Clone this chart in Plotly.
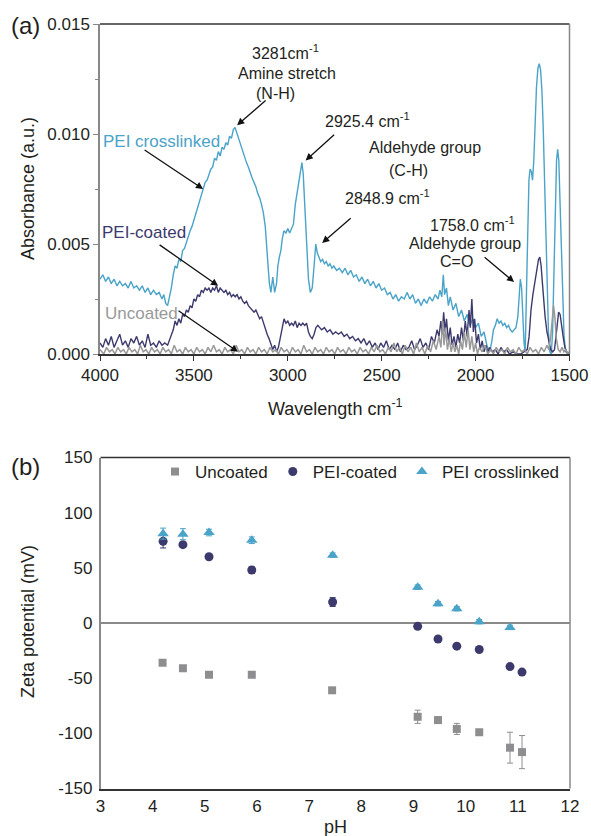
import plotly.graph_objects as go

# ---------------- FTIR spectra (wavenumber cm-1, absorbance a.u.) ----------------
cross_w = [4000,3985,3970,3955,3940,3925,3910,3895,3880,3865,3850,3835,3820,3805,3790,3775,3760,3745,3730,3715,
           3700,3685,3670,3660,3650,3640,3630,3620,3610,3600,3590,3580,3570,3560,3550,3540,3530,3520,3510,3500,
           3490,3480,3470,3460,3450,3440,3430,3420,3410,3400,3390,3380,3370,3360,3350,3340,3330,3320,3310,3300,
           3290,3281,3270,3260,3250,3240,3230,3220,3210,3200,3190,3180,3170,3160,3150,3140,3130,3120,3112,3105,
           3098,3090,3080,3070,3060,3053,3045,3037,3030,3021,3010,3000,2990,2980,2970,2960,2950,2940,2930,2925,
           2918,2910,2904,2897,2890,2880,2870,2860,2851,2843,2835,2825,2815,2805,2795,2785,2775,2765,2755,2740,
           2725,2710,2695,2680,2665,2650,2635,2620,2605,2590,2575,2560,2545,2530,2515,2500,2485,2470,2455,2440,
           2425,2410,2395,2380,2365,2350,2335,2320,2305,2290,2275,2260,2245,2230,2215,2200,2190,2180,2172,2165,
           2155,2145,2135,2120,2105,2090,2075,2060,2045,2030,2015,2000,1985,1970,1955,1940,1925,1915,1905,1895,
           1885,1875,1865,1855,1845,1835,1825,1815,1805,1795,1785,1775,1768,1762,1755,1748,1742,1736,1730,1723,
           1716,1710,1703,1697,1690,1683,1676,1668,1661,1654,1647,1640,1633,1626,1619,1612,1605,1597,1590,1583,
           1576,1569,1563,1557,1550,1543,1536,1529,1520,1510,1500]
cross_a = [0.0034,0.0036,0.0033,0.0035,0.0032,0.0034,0.0031,0.0033,0.0031,0.0032,0.0030,0.0033,0.0030,0.0031,0.0029,0.0031,0.0028,0.0030,0.0027,0.0029,
           0.0027,0.0028,0.0025,0.0027,0.0023,0.0022,0.0026,0.0030,0.0036,0.0040,0.0039,0.0043,0.0042,0.0047,0.0048,0.0051,0.0053,0.0056,0.0058,0.0061,
           0.0063,0.0067,0.0069,0.0073,0.0075,0.0078,0.0079,0.0082,0.0084,0.0085,0.0089,0.0088,0.0092,0.0090,0.0094,0.0093,0.0096,0.0095,0.0099,0.0098,
           0.0102,0.0103,0.0100,0.0098,0.0095,0.0092,0.0090,0.0087,0.0085,0.0082,0.0080,0.0078,0.0076,0.0073,0.0071,0.0068,0.0064,0.0058,0.0050,0.0040,
           0.0032,0.0028,0.0035,0.0028,0.0032,0.0040,0.0044,0.0047,0.0052,0.0056,0.0055,0.0057,0.0055,0.0057,0.0059,0.0068,0.0074,0.0078,0.0085,0.0087,
           0.0082,0.0070,0.0058,0.0045,0.0034,0.0028,0.0030,0.0040,0.0050,0.0046,0.0044,0.0042,0.0043,0.0041,0.0042,0.0040,0.0041,0.0039,0.0040,0.0038,
           0.0039,0.0037,0.0039,0.0036,0.0038,0.0035,0.0036,0.0033,0.0035,0.0032,0.0034,0.0031,0.0033,0.0030,0.0032,0.0029,0.0030,0.0027,0.0028,0.0025,
           0.0027,0.0024,0.0026,0.0025,0.0028,0.0025,0.0027,0.0023,0.0025,0.0022,0.0025,0.0023,0.0026,0.0024,0.0027,0.0025,0.0029,0.0026,0.0036,0.0027,
           0.0030,0.0022,0.0026,0.0020,0.0023,0.0017,0.0020,0.0015,0.0018,0.0013,0.0016,0.0012,0.0014,0.0008,0.0010,0.0004,0.0001,0.0005,0.0011,0.0013,
           0.0016,0.0014,0.0015,0.0013,0.0014,0.0012,0.0013,0.0011,0.0010,0.0011,0.0012,0.0017,0.0027,0.0034,0.0030,0.0016,0.0005,0.0001,0.0020,0.0052,
           0.0079,0.0084,0.0083,0.0079,0.0088,0.0107,0.0121,0.0130,0.0132,0.0129,0.0120,0.0103,0.0080,0.0055,0.0030,0.0010,0.0001,0.0000,0.0010,0.0040,
           0.0070,0.0088,0.0093,0.0088,0.0068,0.0045,0.0022,0.0008,0.0001,0.0000,0.0000]

coat_w = [4000,3985,3970,3955,3940,3925,3910,3895,3880,3865,3850,3835,3820,3805,3790,3775,3760,3745,3730,3715,
          3700,3685,3670,3655,3640,3625,3610,3600,3590,3580,3570,3560,3550,3540,3530,3520,3510,3500,3490,3480,
          3470,3460,3450,3440,3430,3420,3410,3400,3390,3380,3370,3360,3350,3340,3330,3320,3310,3300,3290,3280,
          3270,3260,3250,3240,3230,3220,3210,3200,3190,3180,3170,3160,3150,3140,3130,3120,3110,3100,3090,3080,
          3070,3060,3050,3040,3030,3020,3010,3000,2990,2980,2970,2960,2950,2940,2930,2920,2910,2900,2890,2880,
          2870,2860,2850,2840,2830,2820,2805,2790,2775,2760,2745,2730,2715,2700,2685,2670,2655,2640,2625,2610,
          2595,2580,2565,2550,2535,2520,2505,2490,2475,2460,2445,2430,2415,2400,2385,2370,2355,2340,2325,2310,
          2295,2280,2265,2250,2235,2220,2205,2195,2185,2178,2170,2162,2155,2145,2135,2125,2115,2105,2095,2085,
          2075,2065,2055,2045,2035,2028,2020,2012,2005,1995,1985,1975,1965,1955,1945,1935,1925,1910,1895,1880,
          1865,1850,1835,1820,1800,1780,1760,1740,1725,1715,1705,1695,1685,1675,1665,1658,1651,1644,1637,1630,
          1620,1610,1600,1590,1580,1572,1565,1558,1550,1542,1534,1525,1515,1500]
coat_a = [0.0005,0.0003,0.0007,0.0004,0.0008,0.0003,0.0006,0.0009,0.0004,0.0006,0.0003,0.0007,0.0005,0.0008,0.0004,0.0006,0.0003,0.0009,0.0004,0.0005,
          0.0003,0.0006,0.0004,0.0005,0.0004,0.0008,0.0011,0.0015,0.0013,0.0016,0.0014,0.0018,0.0017,0.0020,0.0019,0.0022,0.0021,0.0025,0.0024,0.0027,
          0.0026,0.0029,0.0028,0.0030,0.0029,0.0030,0.0028,0.0030,0.0029,0.0031,0.0028,0.0030,0.0029,0.0028,0.0029,0.0027,0.0028,0.0026,0.0027,0.0026,
          0.0027,0.0025,0.0026,0.0024,0.0023,0.0024,0.0022,0.0021,0.0020,0.0019,0.0020,0.0018,0.0016,0.0017,0.0014,0.0012,0.0009,0.0007,0.0004,0.0002,
          0.0004,0.0001,0.0003,0.0007,0.0012,0.0016,0.0014,0.0015,0.0013,0.0014,0.0013,0.0015,0.0012,0.0014,0.0013,0.0014,0.0013,0.0014,0.0010,0.0008,
          0.0007,0.0009,0.0012,0.0013,0.0012,0.0011,0.0012,0.0010,0.0011,0.0009,0.0010,0.0009,0.0010,0.0008,0.0009,0.0007,0.0008,0.0006,0.0007,0.0005,
          0.0007,0.0004,0.0006,0.0003,0.0005,0.0002,0.0005,0.0003,0.0006,0.0002,0.0004,0.0002,0.0005,0.0001,0.0004,0.0002,0.0003,0.0006,0.0002,0.0004,
          0.0007,0.0003,0.0005,0.0002,0.0008,0.0005,0.0011,0.0008,0.0015,0.0009,0.0019,0.0010,0.0016,0.0006,0.0012,0.0004,0.0008,0.0003,0.0009,0.0005,
          0.0012,0.0006,0.0015,0.0008,0.0020,0.0012,0.0025,0.0010,0.0016,0.0005,0.0009,0.0002,0.0006,0.0001,0.0004,0.0001,0.0003,0.0001,0.0002,0.0000,
          0.0003,0.0001,0.0002,0.0000,0.0001,0.0000,0.0000,0.0001,0.0002,0.0008,0.0020,0.0027,0.0033,0.0038,0.0043,0.0044,0.0040,0.0032,0.0024,0.0017,
          0.0010,0.0005,0.0002,0.0001,0.0002,0.0008,0.0015,0.0019,0.0018,0.0014,0.0008,0.0003,0.0001,0.0000]

unc_w = [4000,3980,3965,3950,3935,3920,3905,3890,3875,3860,3845,3830,3815,3800,3785,3770,3755,3740,3725,3710,
         3695,3680,3665,3650,3635,3620,3605,3590,3575,3560,3545,3530,3515,3500,3485,3470,3455,3440,3425,3410,
         3395,3380,3365,3350,3335,3320,3305,3290,3275,3260,3245,3230,3215,3200,3185,3170,3155,3140,3125,3110,
         3095,3080,3065,3050,3035,3020,3005,2990,2975,2960,2945,2930,2915,2900,2885,2870,2855,2840,2825,2810,
         2795,2780,2765,2750,2735,2720,2705,2690,2675,2660,2645,2630,2615,2600,2585,2570,2555,2540,2525,2510,
         2495,2480,2465,2450,2435,2420,2405,2390,2375,2360,2345,2330,2315,2300,2285,2270,2255,2240,2225,2210,
         2195,2185,2175,2168,2160,2150,2140,2130,2120,2110,2100,2090,2080,2070,2060,2050,2040,2030,2020,2010,
         2000,1990,1980,1965,1950,1935,1920,1905,1890,1875,1860,1845,1830,1815,1800,1785,1770,1755,1740,1725,
         1710,1695,1680,1665,1650,1635,1620,1610,1600,1592,1585,1578,1570,1560,1550,1540,1530,1520,1510,1500]
unc_a = [0.0002,0.0000,0.0003,0.0001,0.0002,0.0000,0.0003,0.0001,0.0002,0.0000,0.0003,0.0001,0.0002,0.0000,0.0004,0.0001,0.0002,0.0000,0.0003,0.0001,
         0.0002,0.0000,0.0003,0.0001,0.0002,0.0000,0.0004,0.0001,0.0002,0.0000,0.0003,0.0001,0.0002,0.0000,0.0003,0.0001,0.0002,0.0000,0.0003,0.0001,
         0.0004,0.0001,0.0002,0.0000,0.0003,0.0001,0.0002,0.0000,0.0004,0.0001,0.0002,0.0000,0.0003,0.0001,0.0002,0.0000,0.0003,0.0001,0.0002,0.0000,
         0.0003,0.0001,0.0002,0.0000,0.0003,0.0001,0.0002,0.0000,0.0003,0.0001,0.0002,0.0000,0.0004,0.0001,0.0002,0.0000,0.0003,0.0001,0.0002,0.0000,
         0.0003,0.0001,0.0002,0.0000,0.0003,0.0001,0.0002,0.0000,0.0003,0.0001,0.0002,0.0000,0.0003,0.0001,0.0002,0.0000,0.0003,0.0001,0.0004,0.0001,
         0.0002,0.0000,0.0003,0.0001,0.0005,0.0001,0.0003,0.0000,0.0004,0.0001,0.0003,0.0000,0.0005,0.0001,0.0003,0.0000,0.0004,0.0001,0.0006,0.0002,
         0.0008,0.0003,0.0015,0.0004,0.0012,0.0002,0.0007,0.0001,0.0005,0.0001,0.0004,0.0000,0.0006,0.0002,0.0010,0.0003,0.0011,0.0002,0.0008,0.0001,
         0.0005,0.0000,0.0003,0.0001,0.0004,0.0000,0.0002,0.0000,0.0003,0.0001,0.0002,0.0000,0.0003,0.0001,0.0002,0.0000,0.0003,0.0001,0.0002,0.0000,
         0.0003,0.0001,0.0002,0.0000,0.0003,0.0001,0.0004,0.0002,0.0008,0.0016,0.0022,0.0017,0.0007,0.0002,0.0001,0.0003,0.0001,0.0002,0.0000,0.0001]

# ---------------- Zeta potential vs pH ----------------
unc_ph = [4.19, 4.58, 5.08, 5.90, 7.44, 9.08, 9.47, 9.83, 10.26, 10.85, 11.08]
unc_zeta = [-36, -41, -47, -47, -61, -85, -88, -96, -99, -113, -117]
unc_err = [2, 2, 2, 2, 2, 6, 3, 5, 2, 14, 15]

coat_ph = [4.20, 4.58, 5.08, 5.90, 7.45, 9.08, 9.47, 9.83, 10.26, 10.85, 11.08]
coat_zeta = [74, 71, 60, 48, 19, -3, -14.5, -21, -24, -39.5, -44.5]
coat_err = [6, 2, 2, 3, 4, 1, 1, 1, 1, 1, 1]

cross_ph = [4.20, 4.58, 5.08, 5.90, 7.45, 9.08, 9.47, 9.83, 10.26, 10.85]
cross_zeta = [81, 80.5, 82, 75, 61.5, 32.5, 17.5, 13, 1.2, -4]
cross_err = [5, 5, 3, 3, 2, 2, 2, 2, 2, 2]

zeta_ticks = [-150, -100, -50, 0, 50, 100, 150]
zeta_ticktext = ["-150", "-100", "-50", "0", "50", "100", "150"]
ph_ticks = [3, 4, 5, 6, 7, 8, 9, 10, 11, 12]
wn_ticks = [4000, 3500, 3000, 2500, 2000, 1500]
abs_ticks = [0, 0.005, 0.010, 0.015]
abs_ticktext = ["0.000", "0.005", "0.010", "0.015"]

LBLUE = "#4AA3C8"
NAVY = "#3C3A6C"
GREY = "#999999"
GREY_M = "#8E8E90"
FONT = "Liberation Sans, Arial, sans-serif"
TXT = "#231F20"

W, H = 591, 836
def px(x):
    return x / W
def py(y):
    return 1 - y / H

fig = go.Figure()

fig.add_trace(go.Scatter(x=cross_w, y=cross_a, mode="lines", line=dict(color=LBLUE, width=1.4),
                         showlegend=False, xaxis="x", yaxis="y"))
fig.add_trace(go.Scatter(x=coat_w, y=coat_a, mode="lines", line=dict(color=NAVY, width=1.4),
                         showlegend=False, xaxis="x", yaxis="y"))
fig.add_trace(go.Scatter(x=unc_w, y=unc_a, mode="lines", line=dict(color=GREY, width=1.5),
                         showlegend=False, xaxis="x", yaxis="y"))

fig.add_trace(go.Scatter(x=unc_ph, y=unc_zeta, mode="markers", name="Uncoated",
                         marker=dict(symbol="square", size=8, color=GREY_M),
                         error_y=dict(type="data", array=unc_err, color=GREY_M, thickness=1, width=3),
                         xaxis="x2", yaxis="y2"))
fig.add_trace(go.Scatter(x=coat_ph, y=coat_zeta, mode="markers", name="PEI-coated",
                         marker=dict(symbol="circle", size=9, color=NAVY),
                         error_y=dict(type="data", array=coat_err, color=NAVY, thickness=1, width=3),
                         xaxis="x2", yaxis="y2"))
fig.add_trace(go.Scatter(x=cross_ph, y=cross_zeta, mode="markers", name="PEI crosslinked",
                         marker=dict(symbol="triangle-up", size=10, color=LBLUE),
                         error_y=dict(type="data", array=cross_err, color=LBLUE, thickness=1, width=3),
                         xaxis="x2", yaxis="y2"))

top_dom_x = [px(100), px(569.5)]
top_dom_y = [py(354), py(24)]
bot_dom_x = [px(100.5), px(570)]
bot_dom_y = [py(788.5), py(457.5)]

tickfont = dict(family=FONT, size=17, color=TXT)

fig.update_layout(
    width=W, height=H, margin=dict(l=0, r=0, t=0, b=0, autoexpand=False),
    paper_bgcolor="white", plot_bgcolor="white",
    font=dict(family=FONT, color=TXT),
    xaxis=dict(domain=top_dom_x, anchor="y", range=[4000, 1500], tickvals=wn_ticks,
               ticks="outside", ticklen=5, tickcolor="#333", tickwidth=1, showgrid=False, zeroline=False,
               showline=True, linecolor="#333", linewidth=1.5, tickfont=tickfont, automargin=False,
               ticklabelstandoff=0,
               minor=dict(dtick=250, ticks="outside", ticklen=3, tickcolor="#333", showgrid=False)),
    yaxis=dict(domain=top_dom_y, anchor="x", range=[0, 0.015], tickvals=abs_ticks, ticktext=abs_ticktext,
               ticks="outside", ticklen=5, tickcolor="#888", tickwidth=1, showgrid=False, zeroline=False,
               showline=True, linecolor="#888", linewidth=1.5, tickfont=tickfont, automargin=False,
               ticklabelstandoff=0,
               minor=dict(dtick=0.0025, ticks="outside", ticklen=3, tickcolor="#888", showgrid=False)),
    xaxis2=dict(domain=bot_dom_x, anchor="y2", range=[3, 12], tickvals=ph_ticks, ticks="", showgrid=False,
                zeroline=False, showline=True, linecolor="#333", linewidth=1.5, tickfont=tickfont,
                automargin=False, ticklabelstandoff=1),
    yaxis2=dict(domain=bot_dom_y, anchor="x2", range=[-150, 150], tickvals=zeta_ticks, ticktext=zeta_ticktext,
                ticks="", showgrid=False,
                zeroline=True, zerolinecolor="#8A8A8A", zerolinewidth=2,
                showline=True, linecolor="#8A8A8A", linewidth=1.5, tickfont=tickfont,
                automargin=False, ticklabelstandoff=3),
    legend=dict(orientation="h", x=px(155), y=py(472), xanchor="left", yanchor="middle",
                font=dict(family=FONT, size=17, color=TXT), bgcolor="rgba(0,0,0,0)",
                itemwidth=30, tracegroupgap=0),
    showlegend=True,
)

# frame borders (top black, right grey)
shapes = [
    dict(type="line", xref="paper", yref="paper", x0=top_dom_x[0], x1=top_dom_x[1], y0=top_dom_y[1], y1=top_dom_y[1],
         line=dict(color="#333", width=1.5)),
    dict(type="line", xref="paper", yref="paper", x0=top_dom_x[1], x1=top_dom_x[1], y0=top_dom_y[0], y1=top_dom_y[1],
         line=dict(color="#888", width=1.5)),
    dict(type="line", xref="paper", yref="paper", x0=bot_dom_x[0], x1=bot_dom_x[1], y0=bot_dom_y[1], y1=bot_dom_y[1],
         line=dict(color="#333", width=1.5)),
    dict(type="line", xref="paper", yref="paper", x0=bot_dom_x[1], x1=bot_dom_x[1], y0=bot_dom_y[0], y1=bot_dom_y[1],
         line=dict(color="#888", width=1.5)),
]
fig.update_layout(shapes=shapes)

ann = []
def text(x, y, s, size=16, color=TXT, angle=0):
    ann.append(dict(x=px(x), y=py(y), xref="paper", yref="paper", text=s, showarrow=False,
                    xanchor="center", yanchor="middle", textangle=angle,
                    font=dict(family=FONT, size=size, color=color)))

def arrow(w, a, dx, dy):
    ann.append(dict(x=w, y=a, xref="x", yref="y", ax=dx, ay=dy, axref="pixel", ayref="pixel",
                    text="", showarrow=True, arrowhead=2, arrowsize=1.1, arrowwidth=1.3, arrowcolor="#111"))

# panel labels & axis titles
text(25, 26, "(a)", size=24)
text(25, 466, "(b)", size=24)
text(28, 189, "Absorbance (a.u.)", size=18, angle=-90)
text(335, 407, "Wavelength cm<sup>-1</sup>", size=18)
text(28, 622, "Zeta potential (mV)", size=18, angle=-90)
text(335, 827, "pH", size=18)

# spectrum annotations
text(285, 52, "3281cm<sup>-1</sup>", size=16)
text(287, 73, "Amine stretch", size=16)
text(275, 93, "(N-H)", size=16)
arrow(3270, 0.0104, 30, -26)

text(161, 141, "PEI crosslinked", size=17, color=LBLUE)
arrow(3451, 0.0075, -60, -40)

text(367, 120, "2925.4 cm<sup>-1</sup>", size=16)
arrow(2905, 0.0088, 30, -27)

text(425, 147, "Aldehyde group", size=16)
text(408, 170, "(C-H)", size=16)

text(387, 197, "2848.9 cm<sup>-1</sup>", size=16)
arrow(2817, 0.00505, 30, -26)

text(472, 224, "1758.0 cm<sup>-1</sup>", size=16)
text(465, 243, "Aldehyde group", size=16)
text(456, 261, "C=O", size=16)
arrow(1795, 0.00327, -31, -26)

text(144, 232, "PEI-coated", size=17, color=NAVY)
arrow(3371, 0.0031, -60, -42)

text(141, 313, "Uncoated", size=17, color=GREY)
arrow(3265, 0.0001, -61, -42)

fig.update_layout(annotations=ann)

fig.write_html("out.html")
